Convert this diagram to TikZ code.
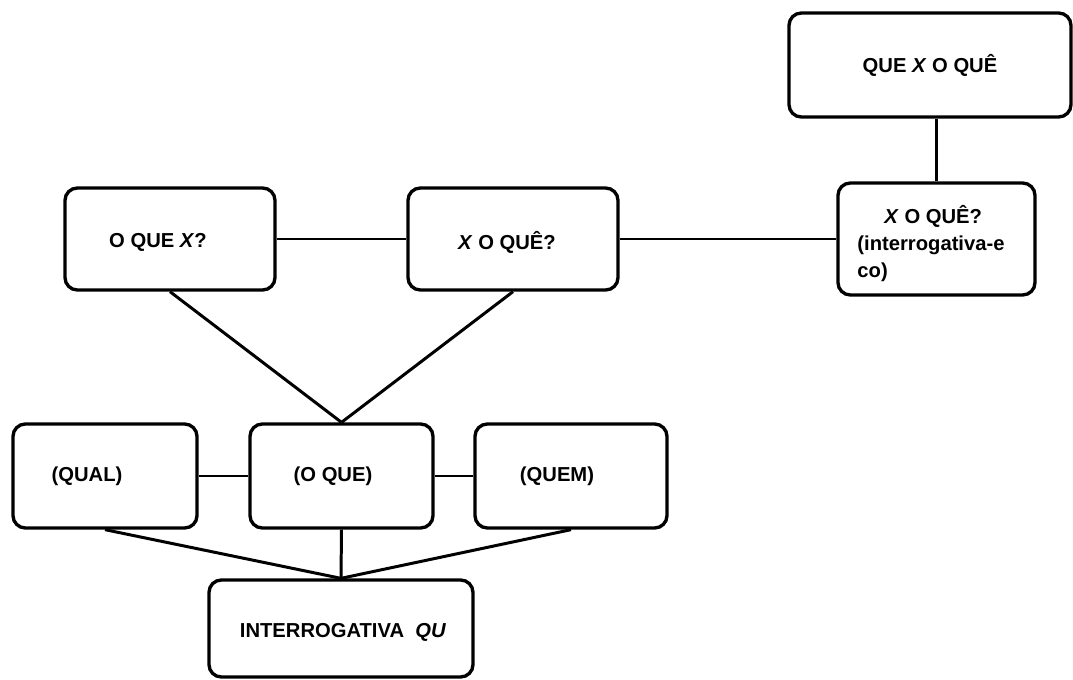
\documentclass[tikz,border=0pt]{standalone}
\usepackage{fontspec}
\setmainfont{Liberation Sans}
\usetikzlibrary{calc}

\begin{document}
\begin{tikzpicture}
[x=0.02cm,y=-0.02cm,line width=1.7pt,
 qbox/.style={draw,rounded corners=7pt,line width=1.9pt,inner sep=0pt},
 qtext/.style={draw=none,font=\bfseries\fontsize{11.5}{15.4}\selectfont,inner sep=0pt}]

\useasboundingbox (0,0) rectangle (1073,680);

\node[qbox,minimum width=5.64cm,minimum height=2.08cm,label={[qtext]center:QUE \textit{X} O QUÊ}] (top) at (930,65) {};
\node[qbox,minimum width=3.94cm,minimum height=2.24cm,label={[qtext,align=left,xshift=-0.11cm,yshift=-0.09cm]center:{\hspace*{0.54cm}\textit{X} O QUÊ?\\(interrogativa-e\\co)}}] (eco) at (936.5,239) {};

\node[qbox,minimum width=4.2cm,minimum height=2.04cm,label={[qtext,xshift=-0.24cm,yshift=-0.06cm]center:O QUE \textit{X}?}] (oqx) at (170,239) {};
\node[qbox,minimum width=4.2cm,minimum height=2.04cm,label={[qtext,xshift=-0.12cm,yshift=-0.06cm]center:\textit{X} O QUÊ?}] (xoq) at (513,239) {};

\node[qbox,minimum width=3.68cm,minimum height=2.08cm,label={[qtext,xshift=-0.36cm]center:(QUAL)}] (qual) at (105,476) {};
\node[qbox,minimum width=3.66cm,minimum height=2.08cm,label={[qtext,xshift=-0.17cm]center:(O QUE)}] (oque) at (341.5,476) {};
\node[qbox,minimum width=3.84cm,minimum height=2.08cm,label={[qtext,xshift=-0.28cm]center:(QUEM)}] (quem) at (571,476) {};

\node[qbox,minimum width=5.28cm,minimum height=1.94cm,label={[qtext,xshift=0.04cm,yshift=-0.07cm]center:INTERROGATIVA\ \ \textit{QU}}] (iqu) at (341,628.5) {};

%same row
\foreach \from/\to in {oqx/xoq,xoq/eco,qual/oque,oque/quem}
\draw (\from) edge (\to);

\foreach \from in {oqx,xoq}
\draw (\from.south) edge (oque.north);

\foreach \from in {qual,oque,quem}
\draw (\from.south) edge (iqu.north);

\draw (eco.north) -- (eco.north |- top.south);

\end{tikzpicture}
\end{document}
